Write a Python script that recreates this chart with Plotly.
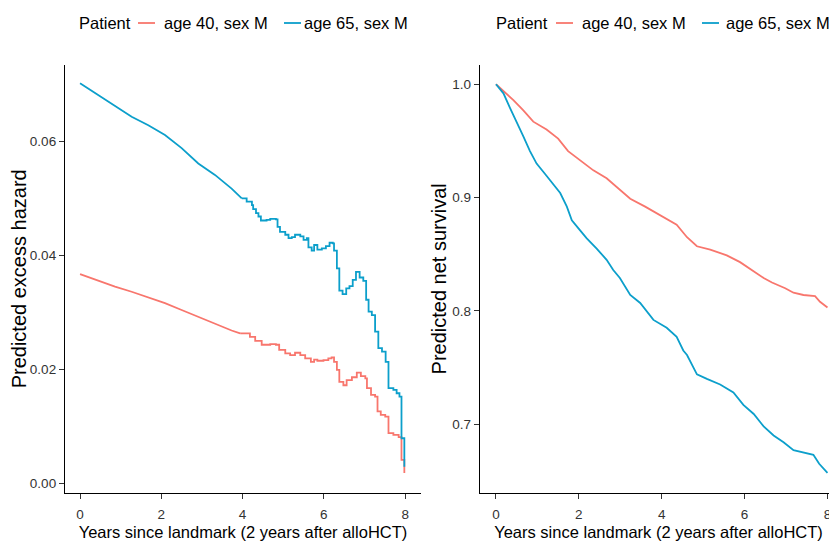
import plotly.graph_objects as go

# ---------------- data ----------------
series_names = ["age 40, sex M", "age 65, sex M"]
colors = ["#F8766D", "#0C9FCB"]

# Left panel: predicted excess hazard
haz_t_40 = [0, 0.45, 0.86, 1.27, 1.68, 2.09, 2.50, 2.91, 3.32, 3.73, 3.94, 4.18, 4.31, 4.47,
            4.68, 4.82, 4.90, 5.05, 5.17, 5.29, 5.42, 5.54, 5.68, 5.76, 5.84, 5.99, 6.11, 6.19,
            6.25, 6.32, 6.38, 6.48, 6.56, 6.69, 6.81, 6.91, 7.02, 7.06, 7.16, 7.26, 7.32, 7.40,
            7.51, 7.59, 7.71, 7.84, 7.91, 7.98]
haz_v_40 = [0.0367, 0.0355, 0.0345, 0.0336, 0.0326, 0.0316, 0.0304, 0.0292, 0.0279, 0.0268,
            0.0263, 0.0257, 0.0250, 0.0243, 0.0244, 0.0243, 0.0234, 0.0228, 0.0225, 0.0229,
            0.0225, 0.0219, 0.0213, 0.0217, 0.0215, 0.0216, 0.0219, 0.0221, 0.0213, 0.0199,
            0.0178, 0.0172, 0.0181, 0.0186, 0.0194, 0.0188, 0.0184, 0.0167, 0.0155, 0.0152,
            0.0126, 0.0120, 0.0117, 0.0088, 0.0085, 0.0081, 0.0041, 0.0018]

haz_t_65 = [0, 0.45, 0.86, 1.27, 1.68, 2.09, 2.50, 2.91, 3.32, 3.73, 3.98, 4.10, 4.23, 4.26,
            4.33, 4.39, 4.45, 4.59, 4.68, 4.82, 4.86, 4.92, 5.05, 5.13, 5.21, 5.29, 5.42, 5.50,
            5.58, 5.62, 5.70, 5.76, 5.84, 5.95, 6.05, 6.14, 6.22, 6.25, 6.32, 6.38, 6.46, 6.55,
            6.63, 6.71, 6.79, 6.88, 6.97, 7.04, 7.10, 7.18, 7.26, 7.34, 7.43, 7.52, 7.59, 7.71,
            7.79, 7.86, 7.91, 7.98]
haz_v_65 = [0.0702, 0.0681, 0.0663, 0.0643, 0.0628, 0.0611, 0.0588, 0.0561, 0.0541, 0.0517,
            0.0500, 0.0494, 0.0488, 0.0481, 0.0474, 0.0468, 0.0461, 0.0462, 0.0464, 0.0463,
            0.0450, 0.0441, 0.0436, 0.0430, 0.0432, 0.0436, 0.0433, 0.0427, 0.0430, 0.0414,
            0.0408, 0.0418, 0.0410, 0.0412, 0.0416, 0.0422, 0.0421, 0.0408, 0.0377, 0.0338,
            0.0332, 0.0342, 0.0346, 0.0357, 0.0371, 0.0361, 0.0355, 0.0322, 0.0301, 0.0295,
            0.0266, 0.0237, 0.0231, 0.0213, 0.0167, 0.0164, 0.0158, 0.0152, 0.0079, 0.0029]

# time after which the hazard curves show visible coarse steps
step_start = 3.9

# Right panel: predicted net survival
surv_t_40 = [0, 0.42, 0.66, 0.90, 1.22, 1.50, 1.74, 2.03, 2.35, 2.67, 2.99, 3.24, 3.60, 3.94,
             4.36, 4.61, 4.85, 5.17, 5.57, 5.89, 6.18, 6.46, 6.66, 6.98, 7.18, 7.42, 7.70, 7.82, 8.0]
surv_v_40 = [1.0, 0.986, 0.977, 0.967, 0.960, 0.952, 0.941, 0.933, 0.924, 0.917, 0.907, 0.899,
             0.892, 0.885, 0.876, 0.865, 0.857, 0.854, 0.849, 0.843, 0.836, 0.829, 0.825, 0.820,
             0.816, 0.814, 0.813, 0.808, 0.803]

surv_t_65 = [0, 0.18, 0.34, 0.50, 0.66, 0.82, 0.98, 1.18, 1.34, 1.55, 1.71, 1.83, 2.03, 2.19,
             2.43, 2.67, 2.83, 2.99, 3.24, 3.48, 3.80, 4.12, 4.36, 4.52, 4.61, 4.85, 5.09, 5.41,
             5.73, 5.97, 6.22, 6.46, 6.70, 6.94, 7.18, 7.42, 7.66, 7.80, 8.0]
surv_v_65 = [1.0, 0.992, 0.979, 0.967, 0.954, 0.941, 0.930, 0.921, 0.914, 0.904, 0.892, 0.880,
             0.871, 0.864, 0.855, 0.845, 0.836, 0.829, 0.814, 0.807, 0.792, 0.785, 0.777, 0.765,
             0.761, 0.744, 0.740, 0.735, 0.728, 0.717, 0.709, 0.698, 0.690, 0.684, 0.677, 0.675,
             0.673, 0.665, 0.657]

x_ticks = [0, 2, 4, 6, 8]
haz_ticks = [0.00, 0.02, 0.04, 0.06]
haz_labels = ["0.00", "0.02", "0.04", "0.06"]
surv_ticks = [0.7, 0.8, 0.9, 1.0]
surv_labels = ["0.7", "0.8", "0.9", "1.0"]
x_title = "Years since landmark (2 years after alloHCT)"
legend_title = "Patient"

# ---------------- figure ----------------
# the page body has an 8px margin, so the figure is sized to fill the rest of the window
OFF = 8
W, H = 837 - OFF, 544 - OFF
FONT = "Liberation Sans, Arial, Helvetica, sans-serif"
LW = 1.8


def px2x(p):  # window pixel -> paper fraction
    return (p - OFF) / W


def px2y(p):
    return 1 - (p - OFF) / H


fig = go.Figure()

# left panel: smooth early part drawn as a line, later coarse steps as a step function
for name, col, t, v in zip(series_names, colors, [haz_t_40, haz_t_65], [haz_v_40, haz_v_65]):
    k = next(i for i, tt in enumerate(t) if tt >= step_start)
    fig.add_trace(go.Scatter(x=t[:k + 1], y=v[:k + 1], mode="lines", name=name,
                             line=dict(color=col, width=LW, shape="linear"),
                             xaxis="x", yaxis="y", showlegend=False, legendgroup=name))
    fig.add_trace(go.Scatter(x=t[k:], y=v[k:], mode="lines", name=name,
                             line=dict(color=col, width=LW, shape="hv"),
                             xaxis="x", yaxis="y", showlegend=False, legendgroup=name))

for name, col, t, v in zip(series_names, colors, [surv_t_40, surv_t_65], [surv_v_40, surv_v_65]):
    fig.add_trace(go.Scatter(x=t, y=v, mode="lines", name=name,
                             line=dict(color=col, width=LW, shape="linear"),
                             xaxis="x2", yaxis="y2", showlegend=False, legendgroup=name))

axis_common = dict(showline=True, linecolor="black", linewidth=1.3, ticks="outside", ticklen=5,
                   tickwidth=1, tickcolor="#333", showgrid=False, zeroline=False, automargin=False,
                   tickfont=dict(family=FONT, size=13.5, color="#333"))
x_extra = dict(ticklabelstandoff=4)

fig.update_layout(
    width=W, height=H, margin=dict(l=0, r=0, t=0, b=0, autoexpand=False),
    paper_bgcolor="white", plot_bgcolor="white",
    font=dict(family=FONT, color="black"),
    showlegend=False,
    xaxis=dict(domain=[px2x(65), px2x(421)], range=[-0.37, 8.39], tickvals=x_ticks,
               anchor="y", title=dict(text=x_title, font=dict(family=FONT, size=16.5), standoff=5),
               **axis_common, **x_extra),
    yaxis=dict(domain=[px2y(492.7), px2y(65)], range=[-0.00165, 0.07338], tickvals=haz_ticks,
               ticktext=haz_labels, anchor="x",
               title=dict(text="Predicted excess hazard", font=dict(family=FONT, size=20), standoff=0),
               **axis_common),
    xaxis2=dict(domain=[px2x(480), 1.0], range=[-0.386, 8.23], tickvals=x_ticks,
                anchor="y2", title=dict(text=x_title, font=dict(family=FONT, size=16.5), standoff=5),
                **axis_common, **x_extra),
    yaxis2=dict(domain=[px2y(492.7), px2y(65)], range=[0.6395, 1.017], tickvals=surv_ticks,
                ticktext=surv_labels, anchor="x2",
                title=dict(text="Predicted net survival", font=dict(family=FONT, size=20), standoff=0),
                **axis_common),
)

# legends (one per panel, as in the reference); text x positions allow for annotation padding
legend_layouts = [
    dict(title_x=77, items=[(138, 155, 162), (284, 301, 302)]),
    dict(title_x=494, items=[(556, 573, 580), (702, 719, 724)]),
]
LEG_Y = 23
for lay in legend_layouts:
    fig.add_annotation(x=px2x(lay["title_x"]), y=px2y(LEG_Y), xref="paper", yref="paper",
                       text=legend_title, showarrow=False, xanchor="left", yanchor="middle",
                       font=dict(family=FONT, size=16.5, color="black"))
    for (x0, x1, tx), name, col in zip(lay["items"], series_names, colors):
        fig.add_shape(type="line", xref="paper", yref="paper", x0=px2x(x0), x1=px2x(x1),
                      y0=px2y(LEG_Y), y1=px2y(LEG_Y), line=dict(color=col, width=LW))
        fig.add_annotation(x=px2x(tx), y=px2y(LEG_Y), xref="paper", yref="paper",
                           text=name, showarrow=False, xanchor="left", yanchor="middle",
                           font=dict(family=FONT, size=16.5, color="black"))

fig.write_html("out.html")
